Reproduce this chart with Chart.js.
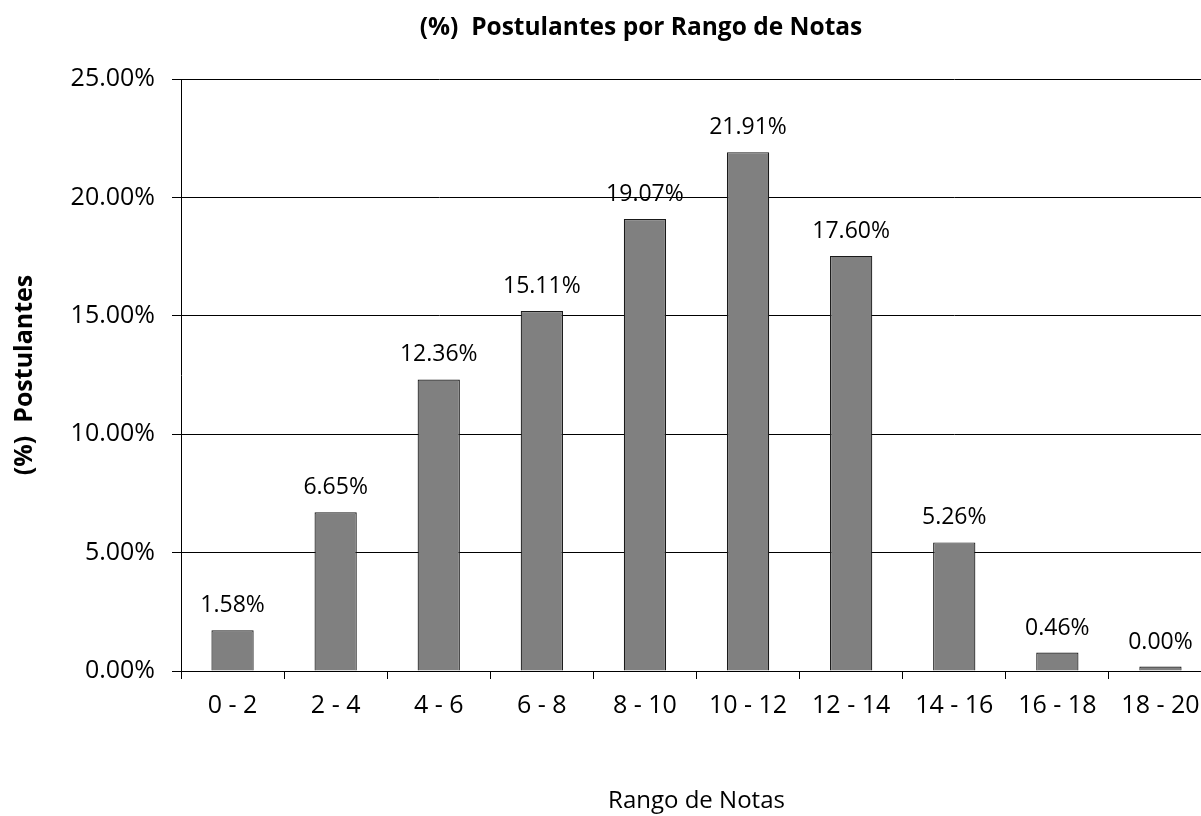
<!DOCTYPE html>
<html>
<head>
<meta charset="utf-8">
<script src="https://cdn.jsdelivr.net/npm/chart.js@4.4.1/dist/chart.umd.min.js"></script>
<style>
html,body{margin:0;padding:0;overflow:hidden;background:#fff;}
canvas{display:block;}
</style>
</head>
<body>
<canvas id="c" width="1212" height="816"></canvas>
<script>
const categories = ['0 - 2','2 - 4','4 - 6','6 - 8','8 - 10','10 - 12','12 - 14','14 - 16','16 - 18','18 - 20'];
const barValues = [1.72, 6.70, 12.31, 15.20, 19.09, 21.91, 17.53, 5.43, 0.78, 0.19];
const valueLabels = ['1.58%','6.65%','12.36%','15.11%','19.07%','21.91%','17.60%','5.26%','0.46%','0.00%'];
const yTicks = [0, 5, 10, 15, 20, 25];
const chartTitle = '(%)  Postulantes por Rango de Notas';

const FONT = '"Open Sans", Lato, sans-serif';

const labelPlugin = {
  id: 'valueLabels',
  afterDatasetsDraw(chart) {
    const ctx = chart.ctx;
    const meta = chart.getDatasetMeta(0);
    ctx.save();
    ctx.font = '23px ' + FONT;
    ctx.fillStyle = '#000';
    ctx.textAlign = 'center';
    ctx.textBaseline = 'alphabetic';
    meta.data.forEach((bar, i) => {
      ctx.fillText(valueLabels[i], bar.x, bar.y - 18);
    });
    ctx.restore();
  }
};

const titlePlugin = {
  id: 'offsetTitle',
  afterDraw(chart) {
    const ctx = chart.ctx;
    ctx.save();
    ctx.font = 'bold 24.5px ' + FONT;
    ctx.fillStyle = '#000';
    ctx.textAlign = 'center';
    ctx.textBaseline = 'middle';
    ctx.fillText(chartTitle, 641, 28);
    ctx.restore();
  }
};

new Chart(document.getElementById('c'), {
  type: 'bar',
  data: {
    labels: categories,
    datasets: [{
      data: barValues,
      backgroundColor: '#808080',
      borderColor: '#1a1a1a',
      borderWidth: 1.2,
      barPercentage: 0.41,
      categoryPercentage: 1.0
    }]
  },
  options: {
    responsive: false,
    animation: false,
    devicePixelRatio: 1,
    layout: { padding: { left: 0, right: 0, top: 79, bottom: 0 } },
    plugins: {
      legend: { display: false },
      tooltip: { enabled: false },
      title: { display: false },
      subtitle: {
        display: true,
        position: 'bottom',
        fullSize: false,
        text: 'Rango de Notas',
        color: '#000',
        font: { family: FONT, size: 24, weight: 'normal' },
        padding: { top: 0, bottom: 0 }
      }
    },
    scales: {
      x: {
        offset: true,
        grid: { offset: true, drawOnChartArea: false, drawTicks: true, tickLength: 8, color: '#000', lineWidth: 1 },
        border: { display: true, color: '#000', width: 1 },
        ticks: { color: '#000', font: { family: FONT, size: 25 }, padding: 12, maxRotation: 0, autoSkip: false },
        afterFit(scale) { scale.height = 816 - 671 - 28.8; }
      },
      y: {
        min: 0,
        max: 25,
        afterBuildTicks(scale) { scale.ticks = yTicks.map(v => ({ value: v })); },
        grid: { color: '#000', lineWidth: 1, drawTicks: true, tickLength: 9 },
        border: { display: true, color: '#000', width: 1 },
        ticks: { color: '#000', font: { family: FONT, size: 25 }, padding: 17, callback: v => v.toFixed(2) + '%' },
        title: { display: true, text: '(%)  Postulantes', color: '#000', font: { family: FONT, size: 25, weight: 'bold' }, padding: { top: 10, bottom: 0 } },
        afterFit(scale) { scale.width = 181; }
      }
    }
  },
  plugins: [labelPlugin, titlePlugin]
});
</script>
</body>
</html>
